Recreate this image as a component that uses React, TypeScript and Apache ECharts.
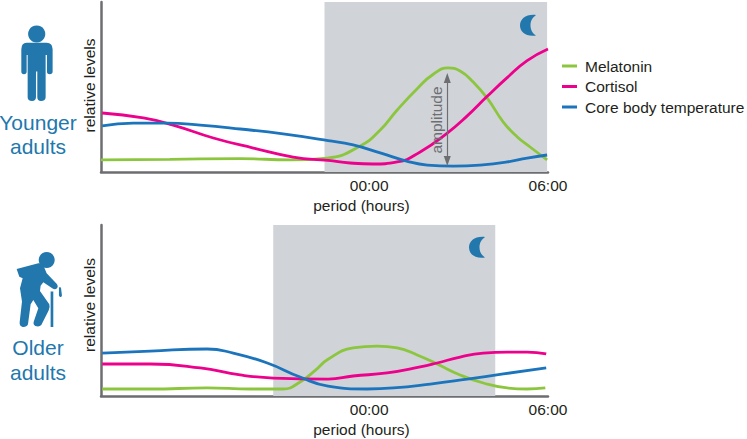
import React, { useEffect, useRef } from "react";
import * as echarts from "echarts";

const tickValues = [0, 6];
const tickLabels = ["00:00", "06:00"];
const seriesNames = ["Melatonin", "Cortisol", "Core body temperature"];

const youngMelatonin = [[-9,7.1],[-6.68,7.4],[-4.33,7.9],[-2.65,7.1],[-1.41,8.2],[-0.3,15.3],[0.37,24.7],[0.94,36.5],[1.61,49],[2.15,57.5],[2.65,61.2],[3.05,59.4],[3.49,52.9],[3.96,43.5],[4.5,29.4],[4.97,20.6],[5.4,14.7],[5.97,7.1]];
const youngCortisol = [[-8.96,34.7],[-7.58,31.8],[-6.58,27.6],[-5.23,20],[-3.89,14.1],[-2.55,8.8],[-1.38,6.8],[-0.64,5.3],[0.13,4.7],[0.94,5.9],[1.71,11.8],[2.62,22.9],[3.29,33],[3.96,44.5],[4.63,55.5],[5.3,65.5],[6,72.4]];
const youngTemperature = [[-8.96,27.1],[-7.92,28.8],[-6.78,28.8],[-5.67,27.6],[-4.33,25.3],[-2.89,22.4],[-1.38,18.5],[-0.54,15.9],[0.37,11.2],[1.28,6.3],[1.95,4.1],[2.82,3.5],[3.72,4.1],[4.63,5.9],[5.3,8.2],[5.97,10]];

const olderMelatonin = [[-8.96,4.1],[-7.35,4.1],[-5.44,4.7],[-3.99,4.1],[-2.89,4.1],[-2.32,8.2],[-1.81,15],[-1.38,21.5],[-0.54,28.1],[0.27,29.2],[0.94,28.1],[1.61,24],[2.28,18.7],[3.05,12.3],[3.83,7.6],[4.63,4.7],[5.3,4.1],[5.91,4.7]];
const olderCortisol = [[-8.96,18.7],[-7.35,18.7],[-5.67,16.4],[-4.33,12.3],[-3.22,10.5],[-1.38,9.9],[-0.54,11.7],[0.6,13.5],[1.71,17],[2.28,19.3],[3.05,22.8],[3.83,25.1],[4.63,25.7],[5.3,25.7],[5.94,24.6]];
const olderTemperature = [[-8.96,25.1],[-7.35,26.3],[-5.44,27.5],[-4.56,25.1],[-3.42,19.3],[-2.32,11.1],[-1.38,5.8],[-0.07,4.1],[0.81,4.7],[2.05,7],[3.29,9.9],[4.5,12.9],[5.94,16.4]];

const youngNight = [-1.5, 5.97];
const olderNight = [-3.22, 4.23];
const amplitudeRange = [6.5, 55.3];
const amplitudeHour = 2.62;

const GREEN = "#8cc63f";
const PINK = "#ec008c";
const BLUE = "#1c75bc";
const ICON = "#2277ad";
const GREY = "#6d6e71";
const BAND = "#d0d3d8";
const INK = "#231f20";
const FONT = "'Liberation Sans', Arial, sans-serif";
const FS = 15.5;

const MOON = "M16 0C6 -1 0 4 0 10.5C0 17 6 22 16 20.5C12 18 10.5 14 10.5 10.5C10.5 6 12 3 16 0Z";
const YOUNG_BODY = "M50 68H110Q128 68 128 88V155Q128 163 119 163Q111 163 111 155V105H107V232Q107 243 93 243Q82 243 82 232V155H78V232Q78 243 66 243Q53 243 53 232V105H50V155Q50 163 42 163Q34 163 34 155V88Q34 68 50 68Z";
const OLD_BODY = "M20 72L85 55Q98 54 102 65L110 85L140 116Q146 124 141 130Q136 135 128 131L100 112L92 122L90 138L118 178Q121 186 116 197L94 240Q88 247 76 243Q68 238 72 228L85 190L70 165L62 178L54 238Q50 247 38 246Q28 244 29 232L36 170L30 130L38 100L28 95Z";
const CANE = "M122 140H130V246H122ZM147 127L153 128L156 152Q154 158 150 156L147 152Z";

function axes(name: string, gridIndex: number) {
  return {
    x: {
      type: "value", gridIndex, min: -9, max: 6, name: "period (hours)", nameLocation: "middle", nameGap: 25,
      nameTextStyle: { color: INK, fontSize: FS, fontFamily: FONT, padding: [0, 0, 0, 74] },
      axisLine: { show: true, onZero: false, lineStyle: { color: GREY, width: 2.5 } },
      axisTick: { show: false }, splitLine: { show: false },
      axisLabel: {
        color: INK, fontSize: FS, fontFamily: FONT, margin: 5, customValues: tickValues,
        formatter: (v: number) => tickLabels[tickValues.indexOf(v)] ?? "",
      },
    },
    y: {
      type: "value", gridIndex, min: 0, max: 100, name, nameLocation: "middle", nameGap: 3.5, nameRotate: 90,
      nameTextStyle: { color: INK, fontSize: FS, fontFamily: FONT, padding: [0, 0, 0, gridIndex ? 11 : 3] },
      axisLine: { show: true, onZero: false, lineStyle: { color: GREY, width: 2.5 } },
      axisTick: { show: false }, axisLabel: { show: false }, splitLine: { show: false },
    },
  };
}

function line(name: string, data: number[][], color: string, idx: number, extra: object = {}) {
  return {
    type: "line", name, data, xAxisIndex: idx, yAxisIndex: idx, smooth: 0.5, symbol: "none", silent: true,
    lineStyle: { color, width: 2.8 }, itemStyle: { color }, ...extra,
  };
}

function band(range: number[]) {
  return {
    markArea: {
      silent: true, itemStyle: { color: BAND },
      data: [[{ xAxis: range[0] }, { xAxis: range[1] }]],
    },
  };
}

export default function App() {
  const ref = useRef<HTMLDivElement>(null);
  useEffect(() => {
    document.body.style.margin = "0";
    for (const [k, d] of [["moonIcon", MOON], ["youngBody", YOUNG_BODY], ["oldBody", OLD_BODY], ["caneIcon", CANE]]) {
      echarts.graphic.registerShape(k, echarts.graphic.extendPath(d, {}));
    }
    const chart = echarts.init(ref.current!, undefined, { renderer: "svg" });
    const a0 = axes("relative levels", 0);
    const a1 = axes("relative levels", 1);
    const S = 1 / 3;
    const people = (text: string, y: number) => ({
      type: "text", x: 38, y, z: 10, style: { text, fill: ICON, font: `21px ${FONT}`, textAlign: "center", textVerticalAlign: "middle" },
    });
    chart.setOption({
      animation: false,
      grid: [
        { left: 101, top: 2, width: 447, height: 170, containLabel: false },
        { left: 101, top: 225, width: 447, height: 171, containLabel: false },
      ],
      xAxis: [a0.x, a1.x],
      yAxis: [a0.y, a1.y],
      legend: {
        show: true, orient: "vertical", left: 562, top: 58, itemWidth: 15, itemHeight: 3, itemGap: 4.5, icon: "rect",
        data: seriesNames, selectedMode: false, padding: 0,
        textStyle: { color: INK, fontSize: FS, fontFamily: FONT, padding: [0, 0, 0, 3] },
      },
      series: [
        line(seriesNames[0], youngMelatonin, GREEN, 0, {
          ...band(youngNight),
          markLine: {
            silent: true, symbol: ["triangle", "triangle"], symbolSize: [7, 10], label: { show: false },
            lineStyle: { color: GREY, width: 1.2, type: "solid" },
            data: [[{ coord: [amplitudeHour, amplitudeRange[0]] }, { coord: [amplitudeHour, amplitudeRange[1]] }]],
          },
        }),
        line(seriesNames[1], youngCortisol, PINK, 0),
        line(seriesNames[2], youngTemperature, BLUE, 0),
        line(seriesNames[0], olderMelatonin, GREEN, 1, band(olderNight)),
        line(seriesNames[1], olderCortisol, PINK, 1),
        line(seriesNames[2], olderTemperature, BLUE, 1),
      ],
      graphic: [
        { type: "text", x: 436, y: 120, z: 10, rotation: Math.PI / 2, style: { text: "amplitude", fill: GREY, font: `${FS}px ${FONT}`, textAlign: "center", textVerticalAlign: "middle" } },
        { type: "moonIcon", x: 520, y: 15, z: 10, style: { fill: ICON } },
        { type: "moonIcon", x: 469, y: 237, z: 10, style: { fill: ICON } },
        { type: "circle", z: 10, shape: { cx: 36.7, cy: 34, r: 8.6 }, style: { fill: ICON } },
        { type: "youngBody", x: 10, y: 20, z: 10, scaleX: S, scaleY: S, style: { fill: ICON } },
        { type: "circle", z: 10, shape: { cx: 46.7, cy: 260, r: 8 }, style: { fill: ICON } },
        { type: "oldBody", x: 10, y: 245, z: 10, scaleX: S, scaleY: S, style: { fill: ICON } },
        { type: "caneIcon", x: 10, y: 245, z: 10, scaleX: S, scaleY: S, style: { fill: ICON } },
        people("Younger", 122), people("adults", 146), people("Older", 347), people("adults", 372),
      ],
    });
    return () => chart.dispose();
  }, []);
  return <div ref={ref} style={{ width: 747, height: 439 }} />;
}
